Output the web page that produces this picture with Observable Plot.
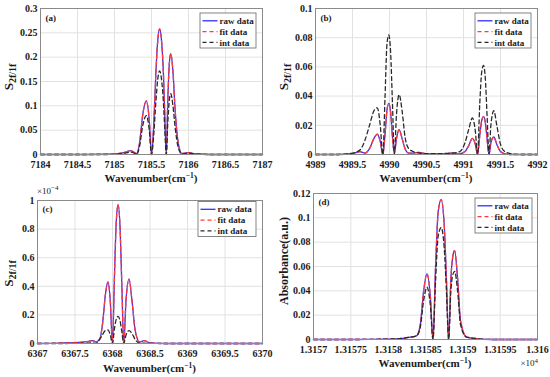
<!DOCTYPE html>
<html><head><meta charset="utf-8">
<script src="https://cdn.jsdelivr.net/npm/d3@7"></script>
<script src="https://cdn.jsdelivr.net/npm/@observablehq/plot@0.6"></script>
<style>
body{margin:0;background:#fff;}
#root{position:relative;width:550px;height:377px;overflow:hidden;background:#fff;}
.panel{position:absolute;}
</style></head><body><div id="root"></div>
<script>
// ---------- data ----------
const legendLabels = ["raw data", "fit data", "int data"];

// (a)
const aX = [7184, 7184.5, 7184.9, 7185.05, 7185.15, 7185.22, 7185.3, 7185.34, 7185.38, 7185.43, 7185.47, 7185.5, 7185.53, 7185.56, 7185.585, 7185.61, 7185.635, 7185.66, 7185.68, 7185.7, 7185.72, 7185.74, 7185.76, 7185.79, 7185.82, 7185.86, 7185.91, 7186.0, 7186.1, 7186.3, 7186.6, 7187];
const aRaw = [0, 0, 0.0005, 0.002, 0.005, 0.008, 0.002, 0.025, 0.08, 0.11, 0.07, 0, 0.06, 0.17, 0.235, 0.258, 0.235, 0.17, 0.08, 0, 0.11, 0.185, 0.207, 0.17, 0.09, 0.025, 0.002, 0.004, 0.001, 0, 0, 0];
const aFit = [0, 0, 0.0005, 0.002, 0.005, 0.008, 0.002, 0.025, 0.08, 0.11, 0.07, 0, 0.06, 0.17, 0.235, 0.258, 0.235, 0.17, 0.08, 0, 0.11, 0.185, 0.207, 0.17, 0.09, 0.025, 0.002, 0.004, 0.001, 0, 0, 0];
const aInt = [0, 0, 0, 0.001, 0.003, 0.005, 0.001, 0.018, 0.058, 0.08, 0.05, 0, 0.04, 0.11, 0.155, 0.172, 0.155, 0.11, 0.05, 0, 0.065, 0.11, 0.125, 0.1, 0.055, 0.015, 0.001, 0.003, 0.001, 0, 0, 0];
const aXTicks = [7184, 7184.5, 7185, 7185.5, 7186, 7186.5, 7187];
const aYTicks = [0, 0.05, 0.1, 0.15, 0.2, 0.25, 0.3];

// (b)
const bX = [4989, 4989.3, 4989.5, 4989.6, 4989.67, 4989.73, 4989.79, 4989.835, 4989.875, 4989.91, 4989.94, 4989.965, 4989.99, 4990.015, 4990.04, 4990.065, 4990.095, 4990.13, 4990.17, 4990.21, 4990.26, 4990.32, 4990.4, 4990.5, 4990.7, 4990.85, 4990.95, 4991.02, 4991.07, 4991.12, 4991.16, 4991.19, 4991.22, 4991.245, 4991.27, 4991.295, 4991.32, 4991.345, 4991.37, 4991.41, 4991.45, 4991.5, 4991.56, 4991.65, 4991.8, 4992];
const bRaw = [0, 0, 0.0005, 0.002, 0.001, 0.004, 0.011, 0.014, 0.009, 0, 0.014, 0.03, 0.035, 0.029, 0.012, 0.001, 0.011, 0.017, 0.011, 0.004, 0.001, 0.001, 0.0015, 0.0005, 0.0005, 0.001, 0.0005, 0.002, 0.006, 0.011, 0.007, 0, 0.013, 0.023, 0.026, 0.022, 0.01, 0, 0.008, 0.012, 0.007, 0.002, 0.0005, 0, 0, 0];
const bFit = [0, 0, 0.0005, 0.002, 0.001, 0.004, 0.011, 0.014, 0.009, 0, 0.014, 0.03, 0.035, 0.029, 0.012, 0.001, 0.011, 0.017, 0.011, 0.004, 0.001, 0.001, 0.0015, 0.0005, 0.0005, 0.001, 0.0005, 0.002, 0.006, 0.011, 0.007, 0, 0.013, 0.023, 0.026, 0.022, 0.01, 0, 0.008, 0.012, 0.007, 0.002, 0.0005, 0, 0, 0];
const bInt = [0, 0, 0.001, 0.003, 0.01, 0.02, 0.03, 0.032, 0.02, 0, 0.04, 0.075, 0.082, 0.07, 0.035, 0, 0.028, 0.041, 0.03, 0.012, 0.004, 0.002, 0.001, 0.0005, 0.0005, 0.001, 0.002, 0.008, 0.017, 0.025, 0.016, 0, 0.035, 0.056, 0.061, 0.052, 0.025, 0, 0.02, 0.03, 0.02, 0.007, 0.002, 0.0005, 0, 0];
const bXTicks = [4989, 4989.5, 4990, 4990.5, 4991, 4991.5, 4992];
const bYTicks = [0, 0.02, 0.04, 0.06, 0.08, 0.1];

// (c)  values in units of 1e-4
const cX = [6367, 6367.3, 6367.55, 6367.68, 6367.73, 6367.78, 6367.83, 6367.87, 6367.905, 6367.94, 6367.97, 6368.0, 6368.025, 6368.05, 6368.075, 6368.1, 6368.125, 6368.15, 6368.18, 6368.22, 6368.26, 6368.3, 6368.36, 6368.42, 6368.5, 6368.7, 6369, 6370];
const cRaw = [0, 0.003, 0.008, 0.015, 0.02, 0.012, 0.03, 0.15, 0.34, 0.43, 0.3, 0, 0.45, 0.85, 0.97, 0.82, 0.4, 0, 0.3, 0.45, 0.3, 0.1, 0.01, 0.02, 0.005, 0, 0, 0];
const cFit = [0, 0.003, 0.008, 0.015, 0.02, 0.012, 0.03, 0.15, 0.34, 0.43, 0.3, 0, 0.45, 0.85, 0.97, 0.82, 0.4, 0, 0.3, 0.45, 0.3, 0.1, 0.01, 0.02, 0.005, 0, 0, 0];
const cInt = [0, 0, 0.001, 0.003, 0.004, 0.001, 0.03, 0.065, 0.09, 0.095, 0.06, 0, 0.1, 0.17, 0.19, 0.16, 0.08, 0, 0.06, 0.09, 0.07, 0.03, 0.003, 0.002, 0.001, 0, 0, 0];
const cXTicks = [6367, 6367.5, 6368, 6368.5, 6369, 6369.5, 6370];
const cYTicks = [0, 0.2, 0.4, 0.6, 0.8, 1];

// (d)
const dX = [13157, 13157.5, 13158.0, 13158.2, 13158.3, 13158.38, 13158.43, 13158.475, 13158.52, 13158.565, 13158.6, 13158.635, 13158.67, 13158.71, 13158.75, 13158.78, 13158.81, 13158.84, 13158.865, 13158.89, 13158.93, 13158.97, 13159.05, 13159.15, 13159.4, 13160];
const dRaw = [0, 0, 0.0003, 0.001, 0.002, 0.003, 0.012, 0.04, 0.054, 0.035, 0, 0.06, 0.105, 0.115, 0.095, 0.05, 0, 0.05, 0.068, 0.073, 0.05, 0.015, 0.002, 0.001, 0, 0];
const dFit = [0, 0, 0.0003, 0.001, 0.002, 0.003, 0.012, 0.04, 0.054, 0.035, 0, 0.06, 0.105, 0.115, 0.095, 0.05, 0, 0.05, 0.068, 0.073, 0.05, 0.015, 0.002, 0.001, 0, 0];
const dInt = [0, 0, 0.0003, 0.001, 0.002, 0.003, 0.01, 0.032, 0.043, 0.028, 0, 0.048, 0.085, 0.092, 0.076, 0.04, 0, 0.04, 0.053, 0.056, 0.04, 0.012, 0.002, 0.001, 0, 0];
const dXTicks = [13157, 13157.5, 13158, 13158.5, 13159, 13159.5, 13160];
const dXTickLabels = ["1.3157", "1.31575", "1.3158", "1.31585", "1.3159", "1.31595", "1.316"];
const dYTicks = [0, 0.02, 0.04, 0.06, 0.08, 0.1, 0.12];

// ---------- drawing ----------
const FONT = "'Liberation Serif', 'Times New Roman', serif";
const seriesStyle = [
  {key: "raw", stroke: "#2f2fff", dash: null},
  {key: "fit", stroke: "#ff3a3a", dash: "4,3"},
  {key: "int", stroke: "#2a2a2a", dash: "4,3"}
];

function makePanel(c) {
  const rows = c.x.map((v, i) => ({x: v, raw: c.raw[i], fit: c.fit[i], int: c.int[i]}));
  const xLab = new Map(c.xTicks.map((t, i) => [t, c.xTickLabels ? c.xTickLabels[i] : String(t)]));
  const svg = Plot.plot({
    width: c.w, height: c.h,
    marginLeft: c.ml, marginRight: c.mr, marginTop: c.mt, marginBottom: c.mb,
    x: {domain: [c.xTicks[0], c.xTicks[c.xTicks.length - 1]]},
    y: {domain: [c.yTicks[0], c.yTicks[c.yTicks.length - 1]]},
    style: {fontFamily: FONT, fontSize: "10px", fontWeight: "bold", color: "#1a1a1a", background: "white"},
    marks: [
      Plot.gridX(c.xTicks, {stroke: "#e2e2e2", strokeOpacity: 1}),
      Plot.gridY(c.yTicks, {stroke: "#e2e2e2", strokeOpacity: 1}),
      ...seriesStyle.map(s => Plot.lineY(rows, {x: "x", y: s.key, stroke: s.stroke, strokeWidth: 1.3, strokeDasharray: s.dash, curve: "monotone-x"})),
      Plot.frame({stroke: "#8a8a8a"}),
      Plot.axisX(c.xTicks, {tickSize: 0, tickPadding: 6, tickFormat: d => xLab.get(d), label: null}),
      Plot.axisY(c.yTicks, {tickSize: 0, tickPadding: 3, tickFormat: d => String(d), label: null}),
      Plot.text([c.tag], {frameAnchor: "top-left", dx: 5, dy: c.tagDy, text: d => d, fontSize: 9, fontWeight: "bold"})
    ]
  });
  const s = d3.select(svg);
  const g = s.append("g").attr("font-family", FONT).attr("font-weight", "bold").attr("fill", "#1a1a1a").attr("text-anchor", "start");
  // x label
  const cx = c.ml + (c.w - c.ml - c.mr) / 2;
  const xl = g.append("text").attr("x", cx).attr("y", c.xlabelY).attr("text-anchor", "middle").attr("font-size", 11);
  xl.append("tspan").text("Wavenumber(cm");
  xl.append("tspan").attr("font-size", 7.5).attr("dy", -4).text("−1");
  xl.append("tspan").attr("dy", 4).text(")");
  // y label
  const cy = c.mt + (c.h - c.mt - c.mb) / 2 + c.ylabelDy;
  const yl = g.append("text").attr("transform", `translate(${c.ylabelX},${cy}) rotate(-90)`).attr("text-anchor", "middle");
  if (c.ylabel === "S") {
    yl.append("tspan").attr("font-size", 13).text("S");
    yl.append("tspan").attr("font-size", 10).attr("dy", 3).text("2f/1f");
  } else {
    yl.attr("font-size", 12).text(c.ylabel);
  }
  // exponent note
  if (c.exp) {
    const ex = g.append("text").attr("x", c.exp.x).attr("y", c.exp.y).attr("text-anchor", c.exp.anchor).attr("font-size", 9).attr("font-weight", "normal");
    ex.append("tspan").text("×10");
    ex.append("tspan").attr("font-size", 7).attr("dy", -3.5).text(c.exp.sup);
  }
  // legend
  const L = c.legend;
  const lg = g.append("g").attr("transform", `translate(${L.x},${L.y})`);
  lg.append("rect").attr("width", L.w).attr("height", L.h).attr("fill", "white").attr("stroke", "#666").attr("stroke-width", 0.8);
  seriesStyle.forEach((st, i) => {
    const yy = 7.8 + i * 10.8;
    lg.append("line").attr("x1", 2.5).attr("x2", 17.5).attr("y1", yy).attr("y2", yy)
      .attr("stroke", st.stroke).attr("stroke-width", 1.3).attr("stroke-dasharray", st.dash);
    lg.append("text").attr("x", 19.5).attr("y", yy).attr("dy", "0.35em").attr("text-anchor", "start").attr("font-size", 9).text(legendLabels[i]);
  });
  const div = document.createElement("div");
  div.className = "panel";
  div.style.left = c.left + "px";
  div.style.top = c.top + "px";
  div.appendChild(svg);
  document.getElementById("root").appendChild(div);
}

makePanel({left: 0, top: 0, w: 275, h: 185, ml: 40, mr: 13, mt: 8, mb: 31,
  x: aX, raw: aRaw, fit: aFit, int: aInt, xTicks: aXTicks, yTicks: aYTicks,
  tag: "(a)", tagDy: 6, xlabelY: 182, ylabel: "S", ylabelX: 13, ylabelDy: -4,
  legend: {x: 200, y: 13, w: 56, h: 35}});
makePanel({left: 275, top: 0, w: 275, h: 185, ml: 40, mr: 13, mt: 8, mb: 31,
  x: bX, raw: bRaw, fit: bFit, int: bInt, xTicks: bXTicks, yTicks: bYTicks,
  tag: "(b)", tagDy: 6, xlabelY: 182, ylabel: "S", ylabelX: 13, ylabelDy: -4,
  legend: {x: 200, y: 13, w: 56, h: 35}});
makePanel({left: 0, top: 185, w: 275, h: 192, ml: 37, mr: 13, mt: 15, mb: 34,
  x: cX, raw: cRaw, fit: cFit, int: cInt, xTicks: cXTicks, yTicks: cYTicks,
  tag: "(c)", tagDy: 5, xlabelY: 187, ylabel: "S", ylabelX: 13, ylabelDy: 2,
  exp: {x: 37, y: 8.5, anchor: "start", sup: "−4"},
  legend: {x: 198, y: 16.5, w: 58, h: 35}});
makePanel({left: 275, top: 185, w: 275, h: 192, ml: 38, mr: 13, mt: 8, mb: 38,
  x: dX, raw: dRaw, fit: dFit, int: dInt, xTicks: dXTicks, xTickLabels: dXTickLabels, yTicks: dYTicks,
  tag: "(d)", tagDy: 5, xlabelY: 182, ylabel: "Absorbance(a.u.)", ylabelX: 13, ylabelDy: -5,
  exp: {x: 263, y: 181, anchor: "end", sup: "4"},
  legend: {x: 200, y: 13, w: 57, h: 35}});
</script></body></html>
